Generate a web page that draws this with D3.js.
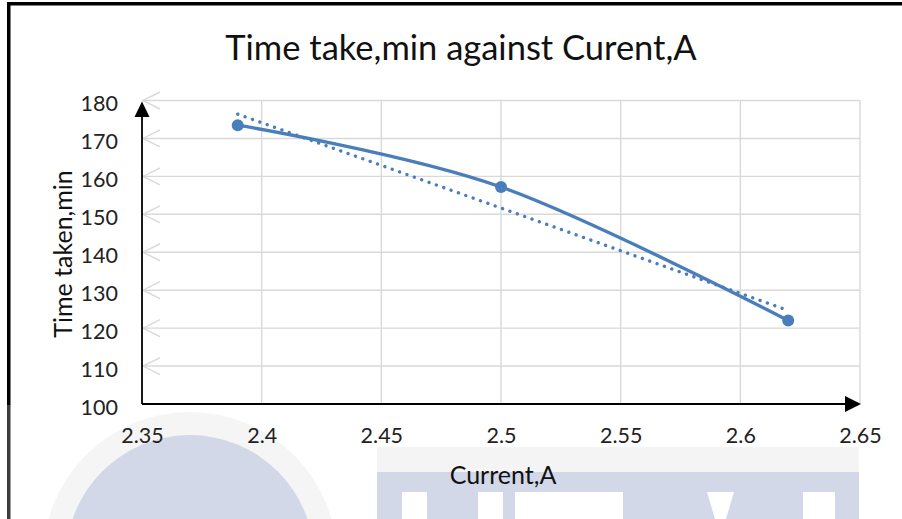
<!DOCTYPE html>
<html>
<head>
<meta charset="utf-8">
<script src="https://cdn.jsdelivr.net/npm/d3@7"></script>
<style>
  html, body { margin: 0; padding: 0; background: #fff; }
  svg { display: block; }
  text { font-family: Lato, "Open Sans", sans-serif; }
</style>
</head>
<body>
<svg id="chart" width="902" height="519"></svg>
<script>
// Measured current (A) and the time taken (min) at each setting
const currents = [2.39, 2.5, 2.62];
const times = [173.5, 157.2, 122];

// Axis ticks
const xTicks = [2.35, 2.4, 2.45, 2.5, 2.55, 2.6, 2.65];
const yTicks = [100, 110, 120, 130, 140, 150, 160, 170, 180];

const chartTitle = "Time take,min against Curent,A";
const xTitle = "Current,A";
const yTitle = "Time taken,min";

const W = 902, H = 519;
const plot = { left: 142, right: 860, top: 100.5, bottom: 404 };
const blue = "#4a7ebb";
const gridColor = "#d9d9d9";
const tickFont = 21.5;

const svg = d3.select("#chart");

// Faint institutional logo printed underneath the figure
const wm = svg.append("g").attr("class", "watermark");
wm.append("circle").attr("cx", 190).attr("cy", 559).attr("r", 147).attr("fill", "#f5f5f5");
wm.append("circle").attr("cx", 190).attr("cy", 559).attr("r", 124).attr("fill", "#d3d8e8");
wm.append("rect").attr("x", 377).attr("y", 447).attr("width", 482).attr("height", 25).attr("fill", "#f4f4f4");
wm.append("rect").attr("x", 377).attr("y", 472).attr("width", 482).attr("height", 47).attr("fill", "#d2d8e8");
[[402, 25], [478, 25], [515, 108], [803, 32]].forEach(([bx, bw]) => {
  wm.append("rect").attr("x", bx).attr("y", 492).attr("width", bw).attr("height", 27).attr("fill", "#fff");
});
wm.append("path").attr("d", "M707,492 L734,492 L726,519 L715,519 Z").attr("fill", "#fff");

// Frame (top and left edges)
svg.append("rect").attr("x", 7).attr("y", 2).attr("width", 895).attr("height", 3.5).attr("fill", "#000");
svg.append("rect").attr("x", 7).attr("y", 2).attr("width", 3.5).attr("height", 403).attr("fill", "#000");
svg.append("rect").attr("x", 7).attr("y", 405).attr("width", 3.5).attr("height", 114).attr("fill", "#3c3c3c");

const x = d3.scaleLinear().domain([2.35, 2.65]).range([plot.left, plot.right]);
const y = d3.scaleLinear().domain([100, 180]).range([plot.bottom, plot.top]);

// Gridlines
const grid = svg.append("g").attr("stroke", gridColor).attr("stroke-width", 1.4).attr("fill", "none");
grid.selectAll("line.v").data(xTicks.slice(1)).join("line")
  .attr("class", "v")
  .attr("x1", d => x(d)).attr("x2", d => x(d))
  .attr("y1", y(180)).attr("y2", y(100));
grid.selectAll("line.h").data(yTicks.slice(1)).join("line")
  .attr("class", "h")
  .attr("x1", plot.left).attr("x2", plot.right)
  .attr("y1", d => y(d)).attr("y2", d => y(d));
// open arrowheads at the left end of each horizontal gridline
grid.selectAll("path.chev").data(yTicks.slice(1)).join("path")
  .attr("class", "chev")
  .attr("d", d => `M${plot.left + 18},${y(d) - 8.5} L${plot.left + 1},${y(d)} L${plot.left + 18},${y(d) + 8.5}`);

// Tick labels through d3 axes
const yAxis = svg.append("g")
  .attr("transform", `translate(${plot.left},0)`)
  .call(d3.axisLeft(y).tickValues(yTicks).tickSize(0).tickPadding(24));
yAxis.select(".domain").remove();
yAxis.selectAll("text")
  .attr("dy", "0.48em")
  .attr("font-size", tickFont)
  .attr("font-family", "Lato, sans-serif")
  .attr("fill", "#222");

const xAxis = svg.append("g")
  .attr("transform", `translate(0,${plot.bottom})`)
  .call(d3.axisBottom(x).tickValues(xTicks).tickFormat(d => String(d)).tickSize(0).tickPadding(23.5));
xAxis.select(".domain").remove();
xAxis.selectAll("text")
  .attr("font-size", tickFont)
  .attr("font-family", "Lato, sans-serif")
  .attr("fill", "#222");

// Axis lines with filled arrowheads
svg.append("line").attr("x1", plot.left).attr("x2", plot.left)
  .attr("y1", plot.bottom).attr("y2", plot.top + 10)
  .attr("stroke", "#000").attr("stroke-width", 1.8);
svg.append("path")
  .attr("d", `M${plot.left},${plot.top + 1} L${plot.left - 7.5},${plot.top + 16.5} L${plot.left + 7.5},${plot.top + 16.5} Z`)
  .attr("fill", "#000");
svg.append("line").attr("x1", plot.left).attr("x2", plot.right - 10)
  .attr("y1", plot.bottom).attr("y2", plot.bottom)
  .attr("stroke", "#000").attr("stroke-width", 1.8);
svg.append("path")
  .attr("d", `M${plot.right + 1},${plot.bottom} L${plot.right - 15},${plot.bottom - 8} L${plot.right - 15},${plot.bottom + 8} Z`)
  .attr("fill", "#000");

const pts = currents.map((c, i) => [c, times[i]]);

// Linear trendline (least squares)
const mx = d3.mean(currents), my = d3.mean(times);
const slope = d3.sum(pts, p => (p[0] - mx) * (p[1] - my)) / d3.sum(pts, p => (p[0] - mx) ** 2);
const icpt = my - slope * mx;
const xr = d3.extent(currents);
svg.append("line")
  .attr("x1", x(xr[0])).attr("y1", y(icpt + slope * xr[0]))
  .attr("x2", x(xr[1])).attr("y2", y(icpt + slope * xr[1]))
  .attr("stroke", blue).attr("stroke-width", 3.4)
  .attr("stroke-linecap", "round").attr("stroke-dasharray", "0.01 7.8");

// Smoothed series line and markers
const line = d3.line().x(d => x(d[0])).y(d => y(d[1])).curve(d3.curveCardinal.tension(0));
svg.append("path").datum(pts)
  .attr("d", line)
  .attr("fill", "none").attr("stroke", blue).attr("stroke-width", 3.4)
  .attr("stroke-linecap", "round");
svg.selectAll("circle.pt").data(pts).join("circle")
  .attr("class", "pt")
  .attr("cx", d => x(d[0])).attr("cy", d => y(d[1])).attr("r", 6)
  .attr("fill", blue);

// Titles
svg.append("text").attr("x", 461).attr("y", 59.5).attr("text-anchor", "middle")
  .attr("font-size", 34.5).attr("fill", "#111").text(chartTitle);
svg.append("text").attr("x", 503).attr("y", 483.5).attr("text-anchor", "middle")
  .attr("font-size", 25).attr("fill", "#111").text(xTitle);
svg.append("text").attr("transform", "translate(72,254) rotate(-90)").attr("text-anchor", "middle")
  .attr("font-size", 25).attr("fill", "#111").text(yTitle);
</script>
</body>
</html>
